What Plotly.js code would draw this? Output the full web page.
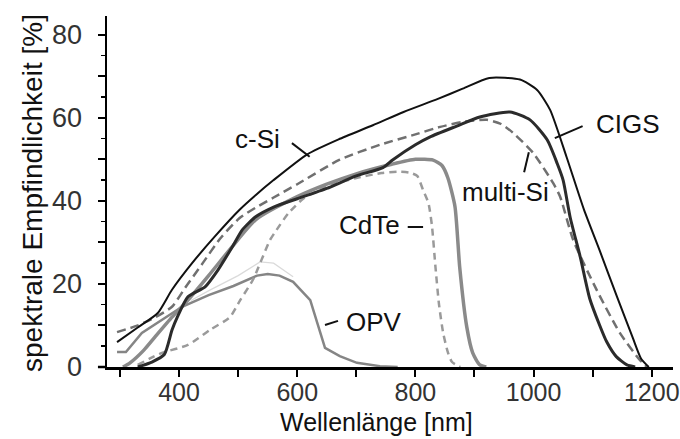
<!DOCTYPE html>
<html>
<head>
<meta charset="utf-8">
<script src="https://cdn.plot.ly/plotly-3.0.1.min.js"></script>
<style>
html,body{margin:0;padding:0;background:#fff;}
#chart{width:680px;height:439px;}
</style>
</head>
<body>
<div id="chart"></div>
<script>
// Wavelength [nm] / spectral response [%]
const cSiX = [295, 330, 364, 388, 422, 461, 502, 529, 560, 617, 670, 728, 780, 837, 880, 925, 977, 1006, 1028, 1056, 1085, 1112, 1141, 1168, 1182, 1195];
const cSiY = [6, 9.5, 13, 18.6, 25, 31.5, 37.8, 41.3, 45, 51.2, 54.8, 58.2, 61.4, 64.5, 67, 69.6, 69.2, 66.7, 61.9, 50.5, 38, 28, 17, 7, 2, 0];

const cigsX = [330, 354, 375, 388, 397, 415, 444, 466, 490, 507, 529, 560, 600, 650, 700, 745, 762, 800, 825, 870, 909, 960, 994, 1023, 1040, 1050, 1062, 1079, 1095, 1112, 1124, 1140, 1158, 1172];
const cigsY = [0, 1.2, 3, 8.9, 12, 16.9, 19.3, 23.4, 28.9, 33, 36.1, 38.5, 40.5, 43, 46, 48, 49.9, 53.5, 55.4, 58, 60.2, 61.4, 59.5, 54.7, 49, 45, 36, 26.5, 16.5, 10, 6, 2.5, 0.5, 0];

const multiX = [295, 330, 360, 388, 410, 440, 470, 502, 529, 560, 600, 672, 740, 800, 842, 880, 921, 945, 965, 999, 1033, 1045, 1067, 1107, 1146, 1178, 1192];
const multiY = [8.4, 10, 12, 14.5, 19, 25, 31, 35.8, 38.3, 40.8, 44, 49.9, 53.5, 56, 57.8, 59, 59.5, 58.5, 56.4, 51.6, 44.3, 41, 30.6, 18.5, 8.2, 2, 0];

const cdteX = [305, 317, 340, 359, 388, 415, 450, 490, 530, 600, 650, 700, 760, 800, 830, 845, 855, 867, 875, 887, 897, 909, 920];
const cdteY = [0, 1, 4, 7.2, 12, 16.1, 22, 29, 35.5, 41, 44, 46.5, 48.8, 50, 49.8, 48.5, 45.5, 38.6, 24, 9.6, 3.4, 0.5, 0];

const cdte2X = [330, 350, 371, 415, 452, 486, 503, 525, 554, 565, 585, 610, 650, 700, 743, 770, 790, 803, 813, 822, 828, 834, 840, 847, 855, 862, 876];
const cdte2Y = [0.5, 2, 3.4, 5.3, 8.9, 12, 16, 21, 30.6, 33, 37, 40.5, 43.5, 45.5, 46.7, 47, 46.8, 46, 42.6, 39.5, 34, 24, 15, 8.2, 3.5, 1.2, 0];

const opvX = [295, 310, 337, 371, 405, 450, 492, 532, 550, 570, 593, 622, 647, 672, 701, 740, 770];
const opvY = [3.6, 3.6, 8.2, 11.3, 14.5, 17.3, 19.5, 22, 22.4, 22, 20.5, 16.1, 4.6, 2.6, 1, 0.2, 0];

const opvFaintX = [420, 452, 500, 537, 560, 593];
const opvFaintY = [16, 18.5, 22, 25.3, 25, 21.7];

// label texts and their anchor positions (data units)
const labelText = ['c-Si', 'CIGS', 'multi-Si', 'CdTe', 'OPV'];
const labelX = [532, 1160, 952, 723, 730];
const labelY = [54.9, 58.5, 42.1, 34.2, 10.8];
// leader lines [x0, y0, x1, y1]
const leaders = [
  [591, 53.9, 621, 50.6],
  [1083, 58.0, 1036, 55.1],
  [992, 51.7, 984, 46.9],
  [787, 33.7, 813, 33.7],
  [647, 10.1, 669, 11.1]
];

const xTitle = 'Wellenlänge [nm]';
const yTitle = 'spektrale Empfindlichkeit [%]';

const yTickVals = [0, 10, 20, 30, 40, 50, 60, 70, 80];
const yTickText = ['0', '', '20', '', '40', '', '60', '', '80'];
const xTickVals = [300, 400, 500, 600, 700, 800, 900, 1000, 1100, 1200];
const xTickText = ['', '400', '', '600', '', '800', '', '1000', '', '1200'];

const FONT = 'Liberation Sans, Arial, Helvetica, sans-serif';

function tr(x, y, color, width, dash, shape) {
  return {
    x: x, y: y, type: 'scatter', mode: 'lines', hoverinfo: 'skip',
    line: {color: color, width: width, dash: dash || 'solid', shape: shape || 'spline', smoothing: 0.6}
  };
}

const data = [
  tr(opvFaintX, opvFaintY, '#dadada', 1.2, 'solid', 'linear'),
  tr(opvX, opvY, '#858585', 2.5, 'solid', 'linear'),
  tr(cdte2X, cdte2Y, '#9a9a9a', 2.5, '7px,5px'),
  tr(cdteX, cdteY, '#8a8a8a', 3.5),
  tr(multiX, multiY, '#707070', 2.5, '9px,5px'),
  tr(cigsX, cigsY, '#2b2b2b', 3),
  tr(cSiX, cSiY, '#111111', 2)
];

const annotations = labelText.map((t, i) => ({
  x: labelX[i], y: labelY[i], xref: 'x', yref: 'y', text: t, showarrow: false,
  font: {family: FONT, size: 26, color: '#111'}, xanchor: 'center', yanchor: 'middle'
}));
// axis titles placed as annotations for exact positioning
annotations.push({
  text: xTitle, xref: 'paper', yref: 'paper', x: (376 - 107) / 566, y: -55 / 351,
  xanchor: 'center', yanchor: 'middle', showarrow: false,
  font: {family: FONT, size: 25, color: '#111'}
});
annotations.push({
  text: yTitle, xref: 'paper', yref: 'paper', x: -75 / 566, y: (367 - 193) / 351,
  xanchor: 'center', yanchor: 'middle', showarrow: false, textangle: -90,
  font: {family: FONT, size: 28, color: '#111'}
});

const shapes = leaders.map(l => ({
  type: 'line', xref: 'x', yref: 'y', x0: l[0], y0: l[1], x1: l[2], y1: l[3],
  line: {color: '#111', width: 2}
}));
shapes.push({type: 'line', xref: 'paper', yref: 'paper', x0: -0.016, x1: 0, y0: 0, y1: 0,
  line: {color: '#000', width: 2.5}});

const layout = {
  width: 680, height: 439,
  margin: {l: 107, r: 7, t: 16, b: 72},
  paper_bgcolor: '#fff', plot_bgcolor: '#fff',
  showlegend: false,
  font: {family: FONT, color: '#222'},
  xaxis: {
    range: [278, 1236], showgrid: false, zeroline: false,
    showline: true, linecolor: '#000', linewidth: 2.5,
    ticks: 'outside', ticklen: 7, tickwidth: 2, tickcolor: '#000',
    tickvals: xTickVals, ticktext: xTickText,
    tickfont: {family: FONT, size: 25, color: '#333'},
    ticklabelstandoff: -6
  },
  yaxis: {
    range: [0, 84.5], showgrid: false, zeroline: false,
    showline: true, linecolor: '#000', linewidth: 2.5,
    ticks: 'outside', ticklen: 7, tickwidth: 2, tickcolor: '#000',
    tickvals: yTickVals, ticktext: yTickText,
    minor: {dtick: 5, tick0: 0, ticks: 'outside', ticklen: 4, tickwidth: 1.5, tickcolor: '#000'},
    tickfont: {family: FONT, size: 27, color: '#333'},
    ticklabelstandoff: 10
  },
  annotations: annotations,
  shapes: shapes
};

Plotly.newPlot('chart', data, layout, {staticPlot: true, displayModeBar: false});
</script>
</body>
</html>
